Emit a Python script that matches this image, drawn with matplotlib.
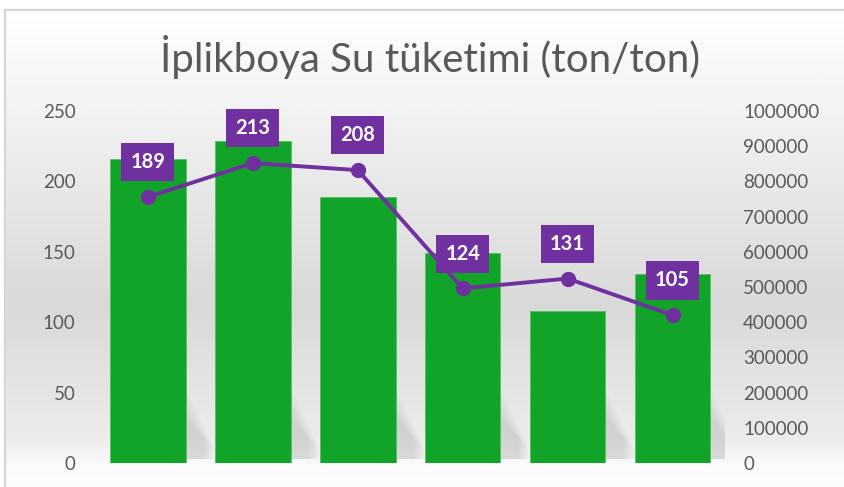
import numpy as np
import matplotlib
matplotlib.use("Agg")
import matplotlib.pyplot as plt
from matplotlib.patches import Polygon
from matplotlib.ticker import FuncFormatter
from matplotlib.colors import LinearSegmentedColormap
from matplotlib.transforms import IdentityTransform

plt.rcParams['font.family'] = ['Lato', 'DejaVu Sans']

title = "İplikboya Su tüketimi (ton/ton)"
categories = ["1", "2", "3", "4", "5", "6"]
bar_values = [864000, 915000, 756000, 597000, 432000, 537000]   # right axis
line_values = [189, 213, 208, 124, 131, 105]                     # left axis
left_ticks = [0, 50, 100, 150, 200, 250]
right_ticks = list(range(0, 1000001, 100000))

W, H = 845, 487
fig = plt.figure(figsize=(W / 100, H / 100), dpi=100)
fig.patch.set_facecolor("white")

# background gradient (inside the chart border)
bg = fig.add_axes([0, 0, 1, 1], zorder=-5)
bg.set_axis_off()
stops = [(0.0, "#ffffff"), (0.2, "#f3f3f3"), (0.62, "#d9d9d9"), (0.9, "#ececec"), (0.96, "#fbfbfb"), (1.0, "#fdfdfd")]
cmap = LinearSegmentedColormap.from_list("bgc", stops)
grad = np.linspace(0, 1, 500).reshape(-1, 1)
bg.imshow(grad, aspect="auto", cmap=cmap, extent=[0, W, H, 10], origin="upper")
bg.set_xlim(0, W)
bg.set_ylim(H, 0)
bg.fill_between([0, W], 0, 9.5, color="white", zorder=2)
bg.fill_between([0, 5.5], 0, H, color="white", zorder=2)
bg.plot([5.5, W], [9.5, 9.5], color="#d6d6d6", lw=1.6, zorder=3)
bg.plot([5.5, 5.5], [9.5, H], color="#d6d6d6", lw=1.6, zorder=3)

left, right = 95.5 / W, 725 / W
bottom, top = (H - 463) / H, (H - 111) / H
ax = fig.add_axes([left, bottom, right - left, top - bottom])
ax.patch.set_alpha(0)
x = np.arange(len(categories))
bars = ax.bar(x, bar_values, width=0.72, color="#12a428", edgecolor="#4fc15f", linewidth=0.6, zorder=3)
ax.set_ylim(0, 1000000)
ax.set_xlim(-0.5, len(categories) - 0.5)
ax.set_xticks([])
for s in ax.spines.values():
    s.set_visible(False)

ax2 = ax.twinx()
ax2.set_position([left, bottom, right - left, top - bottom])
ax2.patch.set_alpha(0)
ax2.plot(x, line_values, color="#7030a0", lw=2.8, marker="o", markersize=10, zorder=5)
ax2.set_ylim(0, 250)
ax2.set_xticks([])
for s in ax2.spines.values():
    s.set_visible(False)

# bars -> right axis, line -> left axis
ax.yaxis.tick_right()
ax.yaxis.set_label_position("right")
ax.set_yticks(right_ticks)
ax.yaxis.set_major_formatter(FuncFormatter(lambda v, p: f"{int(v)}"))
ax.tick_params(axis="y", which="both", left=False, labelleft=False, right=False, labelright=True,
               length=0, pad=13, labelsize=13.5, labelcolor="#595959")

ax2.yaxis.tick_left()
ax2.yaxis.set_label_position("left")
ax2.set_yticks(left_ticks)
ax2.tick_params(axis="y", which="both", right=False, labelright=False, left=False, labelleft=True,
                length=0, pad=14.5, labelsize=13.5, labelcolor="#595959")

for xi, v in zip(x, line_values):
    ax2.annotate(str(v), (xi, v), xytext=(0, 25), textcoords="offset points",
                 ha="center", va="center", fontsize=14.5, fontweight="bold", color="white",
                 bbox=dict(boxstyle="square,pad=0.45", facecolor="#7030a0", edgecolor="none"),
                 zorder=6)

# soft reflections/shadows to the right of each bar
fig.canvas.draw()
for b in bars:
    xr, y0 = ax.transData.transform((b.get_x() + b.get_width(), 0))
    for k in range(7):
        s = k * 2.0
        pts = [(xr - 6, y0 + 70 - s), (xr + 2 - s, y0 + 70 - s), (xr + 30 - s, y0 + 12 + s),
               (xr + 30 - s, y0 + 4), (xr - 6, y0 + 4)]
        ax.add_patch(Polygon(pts, closed=True, transform=IdentityTransform(),
                             facecolor="#a0a0a0", edgecolor="none", alpha=0.05, zorder=1))

fig.text(430 / W, 1 - 57 / H, title, ha="center", va="center", fontsize=29, color="#595959")

fig.savefig("out.png", dpi=100)
